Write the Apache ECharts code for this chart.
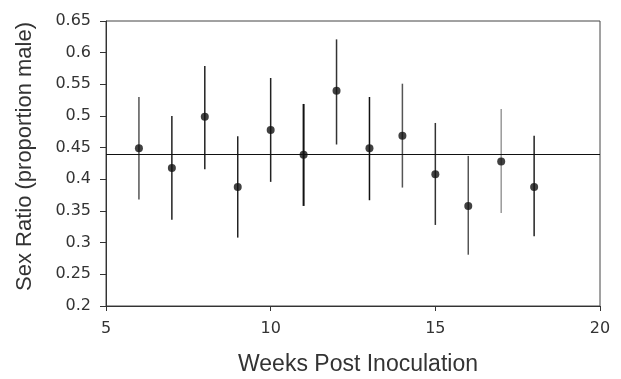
<!DOCTYPE html>
<html>
<head>
<meta charset="utf-8">
<script src="https://cdn.jsdelivr.net/npm/echarts@6/dist/echarts.min.js"></script>
<style>
  html, body { margin: 0; padding: 0; background: #fff; }
  #chart { width: 621px; height: 379px; }
</style>
</head>
<body>
<div id="chart"></div>
<script>
// weeks post inoculation
var weeks = [6, 7, 8, 9, 10, 11, 12, 13, 14, 15, 16, 17, 18];
// sex ratio (proportion male) and error bar ends
var ratio = [0.449, 0.418, 0.499, 0.388, 0.478, 0.439, 0.540, 0.449, 0.469, 0.408, 0.358, 0.428, 0.388];
var upper = [0.530, 0.500, 0.579, 0.468, 0.560, 0.519, 0.621, 0.530, 0.551, 0.489, 0.437, 0.511, 0.469];
var lower = [0.368, 0.336, 0.416, 0.308, 0.396, 0.358, 0.455, 0.367, 0.387, 0.328, 0.281, 0.347, 0.310];
var meanRatio = 0.442;
var xTicks = [5, 10, 15, 20];
var yTicks = [0.2, 0.25, 0.3, 0.35, 0.4, 0.45, 0.5, 0.55, 0.6, 0.65];

var barColors = ['#555', '#222', '#222', '#222', '#222', '#111', '#333', '#111', '#555', '#333', '#555', '#999', '#222'];

var points = weeks.map(function (w, i) { return [w, ratio[i]]; });
var bars = weeks.map(function (w, i) { return [w, lower[i], upper[i]]; });

var chart = echarts.init(document.getElementById('chart'));

var option = {
    animation: false,
    grid: {
        left: 106,
        right: 21,
        top: 21,
        bottom: 73,
        outerBoundsMode: 'none',
        show: true,
        borderColor: '#444',
        borderWidth: 1
    },
    xAxis: {
        type: 'value',
        min: xTicks[0],
        max: xTicks[xTicks.length - 1],
        interval: 5,
        splitLine: { show: false },
        axisLine: { show: true, lineStyle: { color: '#333' } },
        axisTick: { show: true, length: 5, lineStyle: { color: '#333' } },
        axisLabel: {
            color: '#333',
            fontFamily: 'DejaVu Sans',
            fontSize: 16,
            margin: 15
        },
        name: 'Weeks Post Inoculation',
        nameLocation: 'middle',
        nameGap: 47,
        nameTextStyle: {
            color: '#333',
            fontFamily: 'Liberation Sans',
            fontSize: 23,
            padding: [0, 0, 0, 10]
        }
    },
    yAxis: {
        type: 'value',
        min: yTicks[0],
        max: yTicks[yTicks.length - 1],
        interval: 0.05,
        splitLine: { show: false },
        axisLine: { show: true, lineStyle: { color: '#333' } },
        axisTick: { show: true, length: 6, lineStyle: { color: '#333' } },
        axisLabel: {
            color: '#333',
            fontFamily: 'DejaVu Sans',
            fontSize: 16,
            margin: 15,
            formatter: function (v) {
                return String(parseFloat(v.toFixed(2)));
            }
        },
        name: 'Sex Ratio (proportion male)',
        nameLocation: 'middle',
        nameGap: 70,
        nameTextStyle: {
            color: '#333',
            fontFamily: 'Liberation Sans',
            fontSize: 22,
            padding: [0, 0, 0, 14]
        }
    },
    series: [
        {
            type: 'custom',
            data: bars,
            renderItem: function (params, api) {
                var x = api.value(0);
                var p1 = api.coord([x, api.value(1)]);
                var p2 = api.coord([x, api.value(2)]);
                var i = params.dataIndex;
                return {
                    type: 'line',
                    shape: { x1: p1[0], y1: p1[1], x2: p2[0], y2: p2[1] },
                    style: { stroke: barColors[i], lineWidth: i === 5 ? 2 : 1.5 }
                };
            },
            z: 2
        },
        {
            type: 'scatter',
            data: points,
            symbol: 'circle',
            symbolSize: 8,
            itemStyle: { color: '#111' },
            z: 3,
            markLine: {
                silent: true,
                symbol: ['none', 'none'],
                label: { show: false },
                lineStyle: { color: '#111', width: 1.2, type: 'solid' },
                data: [{ yAxis: meanRatio }]
            }
        }
    ]
};

option && chart.setOption(option);
</script>
</body>
</html>
